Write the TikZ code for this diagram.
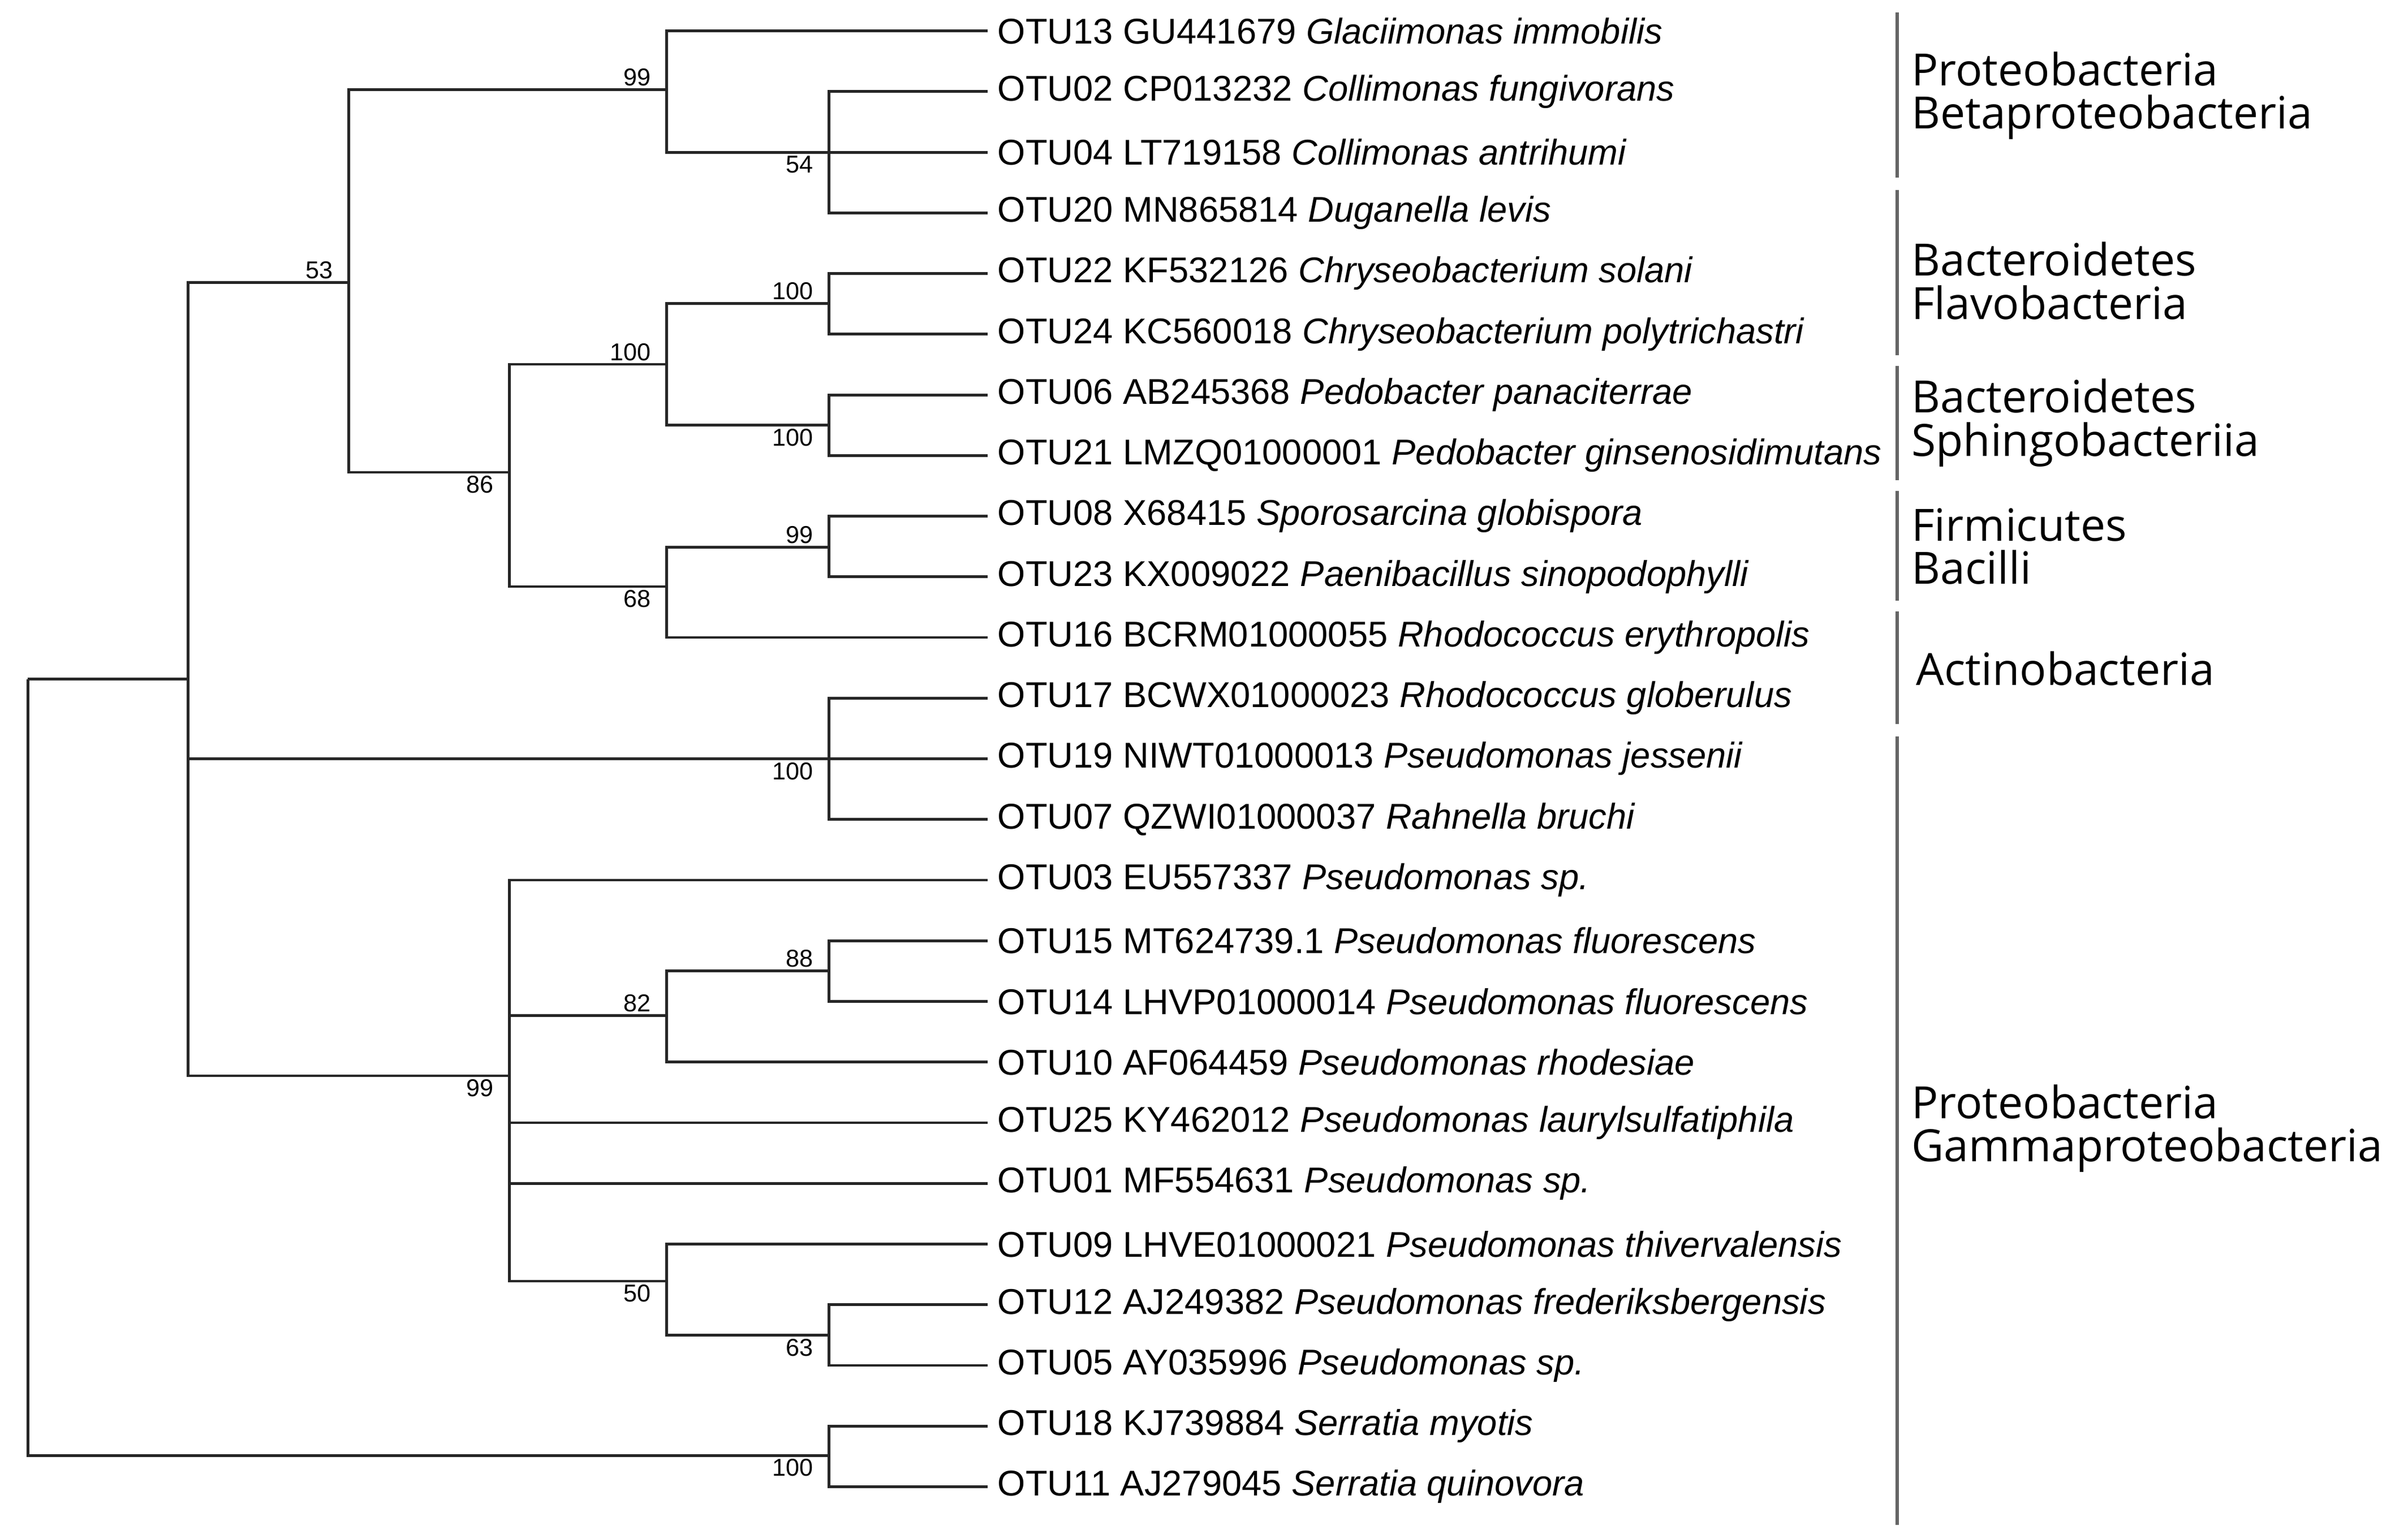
\documentclass[tikz,border=0pt]{standalone}
\usepackage{fontspec}
\setmainfont{Liberation Sans}
\newfontfamily\grpfont{Open Sans}
\begin{document}
\begin{tikzpicture}[x=0.5pt,y=-0.5pt,
  br/.style={line width=0.9pt,draw=black!85},
  leaf/.style={anchor=west,inner sep=0pt,font=\fontsize{11.6}{13}\selectfont},
  bs/.style={inner sep=1pt,font=\fontsize{7.9}{9}\selectfont},
  grp/.style={anchor=west,align=left,inner sep=0pt,font=\grpfont\fontsize{14.4}{14}\selectfont},
  bar/.style={line width=1pt,draw=black!60}]
\useasboundingbox (0,0) rectangle (1560,991);
\foreach \i/\t in {
 0/{OTU13 GU441679 \textit{Glaciimonas immobilis}},
 1/{OTU02 CP013232 \textit{Collimonas fungivorans}},
 2/{OTU04 LT719158 \textit{Collimonas antrihumi}},
 3/{OTU20 MN865814 \textit{Duganella levis}},
 4/{OTU22 KF532126 \textit{Chryseobacterium solani}},
 5/{OTU24 KC560018 \textit{Chryseobacterium polytrichastri}},
 6/{OTU06 AB245368 \textit{Pedobacter panaciterrae}},
 7/{OTU21 LMZQ01000001 \textit{Pedobacter ginsenosidimutans}},
 8/{OTU08 X68415 \textit{Sporosarcina globispora}},
 9/{OTU23 KX009022 \textit{Paenibacillus sinopodophylli}},
 10/{OTU16 BCRM01000055 \textit{Rhodococcus erythropolis}},
 11/{OTU17 BCWX01000023 \textit{Rhodococcus globerulus}},
 12/{OTU19 NIWT01000013 \textit{Pseudomonas jessenii}},
 13/{OTU07 QZWI01000037 \textit{Rahnella bruchi}},
 14/{OTU03 EU557337 \textit{Pseudomonas sp.}},
 15/{OTU15 MT624739.1 \textit{Pseudomonas fluorescens}},
 16/{OTU14 LHVP01000014 \textit{Pseudomonas fluorescens}},
 17/{OTU10 AF064459 \textit{Pseudomonas rhodesiae}},
 18/{OTU25 KY462012 \textit{Pseudomonas laurylsulfatiphila}},
 19/{OTU01 MF554631 \textit{Pseudomonas sp.}},
 20/{OTU09 LHVE01000021 \textit{Pseudomonas thivervalensis}},
 21/{OTU12 AJ249382 \textit{Pseudomonas frederiksbergensis}},
 22/{OTU05 AY035996 \textit{Pseudomonas sp.}},
 23/{OTU18 KJ739884 \textit{Serratia myotis}},
 24/{OTU11 AJ279045 \textit{Serratia quinovora}}}
 {\coordinate (E\i) at (640,{20+39.3*\i});
  \node[leaf] (L\i) at (646,{20+39.3*\i}) {\t};}
\coordinate (root) at (18,440);
\coordinate (n122) at (122,440);
\coordinate (n53) at (226,183);
\coordinate (n99a) at (432,58);
\coordinate (n54) at (537,98.6);
\coordinate (n86) at (330,306);
\coordinate (n100a) at (432,236);
\coordinate (n100b) at (537,196.5);
\coordinate (n100c) at (537,275.5);
\coordinate (n68) at (432,380);
\coordinate (n99b) at (537,354.4);
\coordinate (c17) at (537,491.6);
\coordinate (n99g) at (330,697);
\coordinate (n82) at (432,658);
\coordinate (n88) at (537,629);
\coordinate (n50) at (432,830);
\coordinate (n63) at (537,865);
\coordinate (ser) at (537,943);
\foreach \p/\c in {root/n122,root/ser,n122/n53,n122/c17,n122/n99g,n53/n99a,n53/n86,
  n99a/E0,n99a/n54,n54/E1,n54/E2,n54/E3,n86/n100a,n86/n68,n100a/n100b,n100a/n100c,
  n100b/E4,n100b/E5,n100c/E6,n100c/E7,n68/n99b,n68/E10,n99b/E8,n99b/E9,
  c17/E11,c17/E12,c17/E13,n99g/E14,n99g/n82,n99g/E18,n99g/E19,n99g/n50,
  n82/n88,n82/E17,n88/E15,n88/E16,n50/E20,n50/n63,n63/E21,n63/E22,ser/E23,ser/E24}
 \draw[br] (\p) |- (\c);
% bootstrap
\foreach \n/\v in {n53/53,n99a/99,n100a/100,n100b/100,n99b/99,n82/82,n88/88}
 \node[bs,above left,xshift=-4pt] at (\n) {\v};
\foreach \n/\v in {n54/54,n86/86,n100c/100,n68/68,c17/100,n99g/99,n50/50,n63/63,ser/100}
 \node[bs,below left,xshift=-4pt] at (\n) {\v};
% groups
\foreach \a/\b/\k in {8/115/g1,123/230/g2,237/311/g3,318/389/g4,396/469/g5,477/988/g6}
 {\coordinate (\k a) at (1229,\a); \coordinate (\k b) at (1229,\b); \draw[bar] (\k a) -- (\k b);}
\node[grp] (t1) at (1238,62) {Proteobacteria\\Betaproteobacteria};
\node[grp] (t2) at (1238,182) {Bacteroidetes\\Flavobacteria};
\node[grp] (t3) at (1238,274) {Bacteroidetes\\Sphingobacteriia};
\node[grp] (t4) at (1238,354) {Firmicutes\\Bacilli};
\node[grp] (t5) at (1241,433) {Actinobacteria};
\node[grp] (t6) at (1238,731) {Proteobacteria\\Gammaproteobacteria};
\end{tikzpicture}
\end{document}
